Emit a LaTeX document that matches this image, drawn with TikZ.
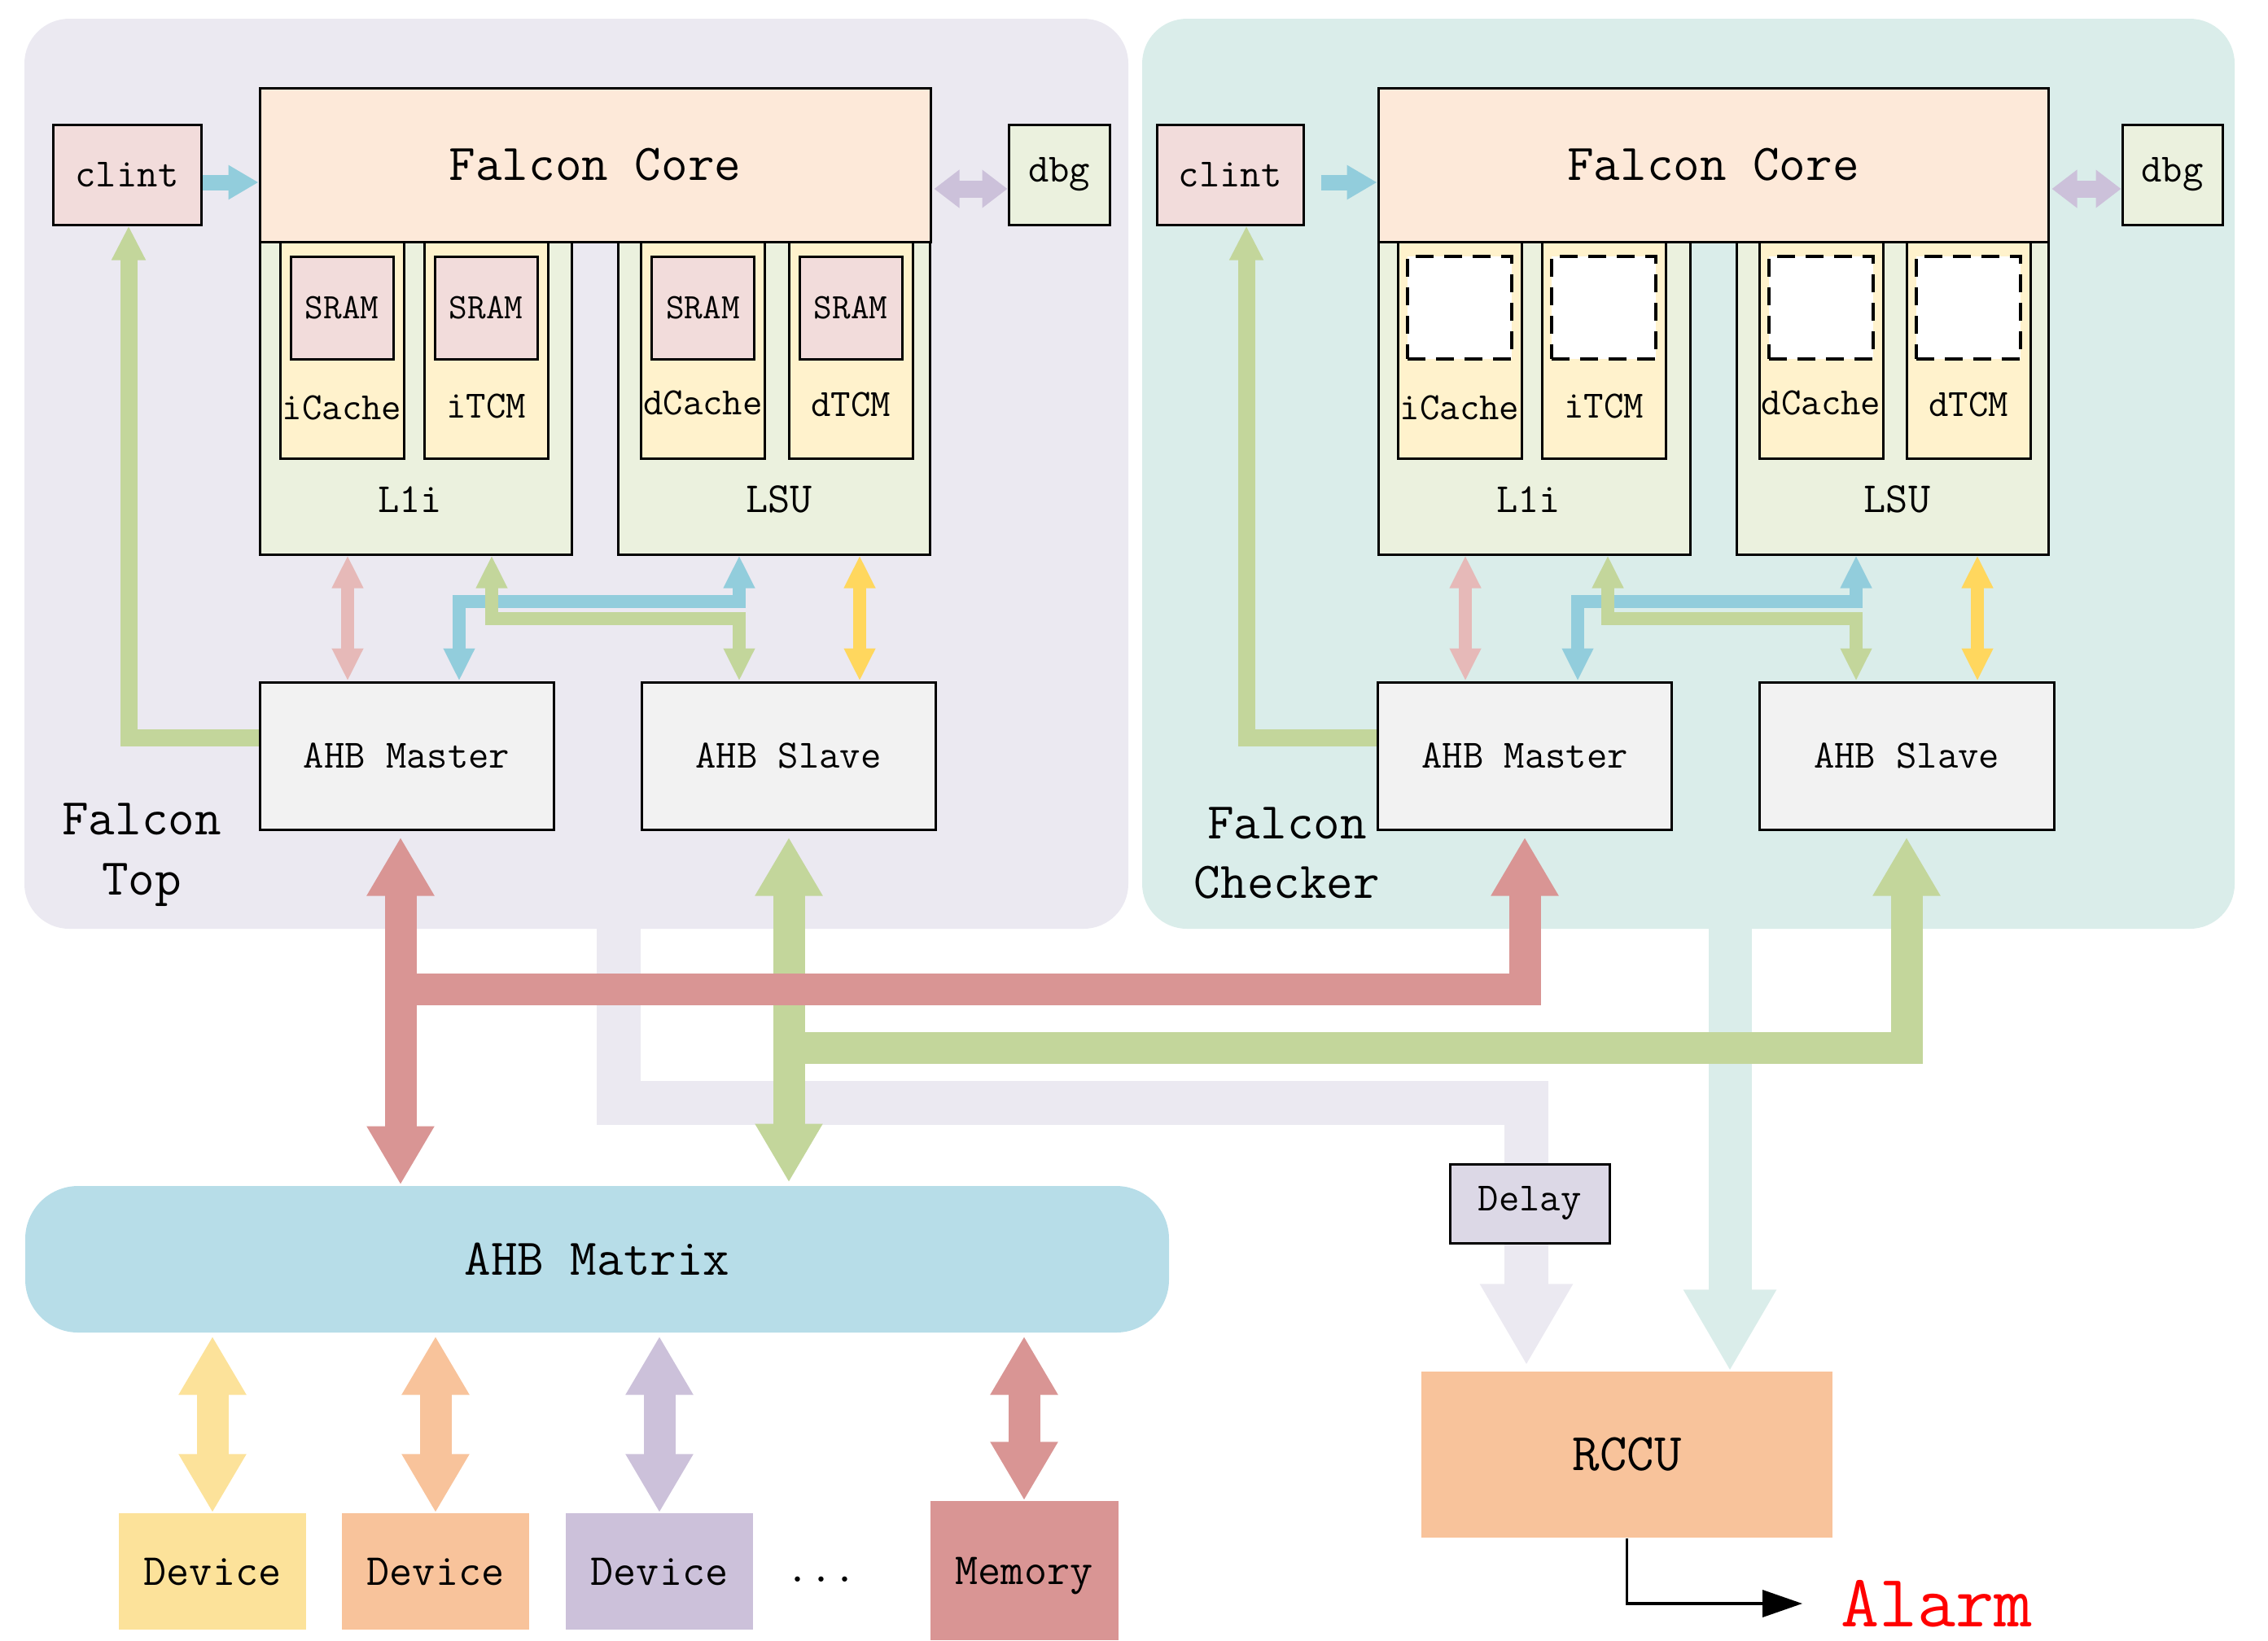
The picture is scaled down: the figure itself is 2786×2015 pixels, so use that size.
\documentclass[tikz,border=0pt]{standalone}
\usepackage{fontspec}
\usetikzlibrary{arrows.meta,positioning,calc}
\definecolor{TopBg}{HTML}{EBE9F1}
\definecolor{ChkBg}{HTML}{DAEDEA}
\definecolor{ClintPink}{HTML}{F2DCDB}
\definecolor{CorePeach}{HTML}{FDE9D9}
\definecolor{UnitGreen}{HTML}{EBF1DE}
\definecolor{CacheYellow}{HTML}{FFF2CC}
\definecolor{AhbGrey}{HTML}{F2F2F2}
\definecolor{ArrBlue}{HTML}{92CDDC}
\definecolor{ArrGreen}{HTML}{C3D69B}
\definecolor{ArrPink}{HTML}{E6B9B8}
\definecolor{ArrYellow}{HTML}{FFD75E}
\definecolor{ArrPurple}{HTML}{CCC1DA}
\definecolor{ArrRed}{HTML}{D99594}
\definecolor{MatrixBlue}{HTML}{B7DDE8}
\definecolor{DevYellow}{HTML}{FCE29A}
\definecolor{DevOrange}{HTML}{F8C39B}
\definecolor{DelayLilac}{HTML}{DCD8E6}
\newcommand{\ttsize}[1]{\ttfamily\fontsize{#1}{#1}\selectfont}
\pgfdeclarelayer{bg}
\pgfdeclarelayer{pipes}
\pgfsetlayers{bg,pipes,main}

\begin{document}
\begin{tikzpicture}[
		x=0.1mm,y=-0.1mm,
		box/.style={draw,line width=0.3mm,inner sep=0pt,align=center},
		cont/.style={draw=none,rounded corners=5.5mm,minimum height=111.8mm},
		small/.style={box,minimum height=12.3mm,font=\ttsize{14}},
		unit/.style={box,fill=UnitGreen,minimum width=38.3mm,minimum height=38.4mm},
		cachebox/.style={box,fill=CacheYellow,minimum width=15.2mm,minimum height=26.6mm},
		sram/.style={box,fill=ClintPink,minimum width=12.6mm,minimum height=12.6mm,font=\ttsize{12.5}},
		ghost/.style={box,fill=white,line width=0.35mm,dash pattern=on 2.2mm off 1.3mm,minimum width=12.8mm,minimum height=12.6mm},
		ahb/.style={box,fill=AhbGrey,minimum width=36.1mm,minimum height=18.1mm,font=\ttsize{14}},
		lbl/.style={inner sep=0pt,font=\ttsize{13.5}},
		dev/.style={inner sep=0pt,minimum width=23mm,minimum height=14.3mm,font=\ttsize{15.5}},
		sarr/.style={line width=1.6mm,{Triangle[length=4mm,width=3.6mm]}-{Triangle[length=4mm,width=3.6mm]}},
		tiparr/.style={line width=1.9mm,-{Triangle[length=3.7mm,width=4mm]}},
		dbgarr/.style={line width=2.1mm,{Triangle[length=3.1mm,width=4.5mm]}-{Triangle[length=3.1mm,width=4.5mm]}},
		irqarr/.style={line width=2.1mm,ArrGreen,-{Triangle[length=4.2mm,width=3.9mm]}},
		bigarr/.style={line width=3.9mm,{Triangle[length=7.2mm,width=7.8mm]}-{Triangle[length=7.2mm,width=7.8mm]}},
		bighead/.style={line width=3.9mm,-{Triangle[length=7.2mm,width=7.8mm]}},
		pipe/.style={line width=5.4mm},
		pipehead/.style={pipe,-{Triangle[length=10mm,width=10.7mm]}}
	]
	\useasboundingbox (0,0) rectangle (2786,2015);
	% containers
	\begin{pgfonlayer}{bg}
		\node[cont,fill=TopBg,minimum width=135.6mm] (topbg) at (708,582) {};
		\node[cont,fill=ChkBg,minimum width=134.2mm] (chkbg) at (2074,582) {};
	\end{pgfonlayer}
	% Falcon Top
	\node[small,fill=ClintPink,minimum width=18.2mm] (tclint) at (156,214.5) {clint};
	\node[unit] (tl1i) at (510.5,489) {};
	\node[unit] (tlsu) at (951,489) {};
	\node[box,fill=CorePeach,minimum width=82.4mm,minimum height=18.9mm,font=\ttsize{18}] (tcore) at (731,202.5) {Falcon Core};
	\node[small,fill=UnitGreen,minimum width=12.4mm] (tdbg) at (1301,214.5) {dbg};
	\node[cachebox] (ticache) at (420,430) {};
	\node[cachebox] (titcm) at (597,430) {};
	\node[cachebox] (tdcache) at (863.5,430) {};
	\node[cachebox] (tdtcm) at (1045,430) {};
	\node[sram] (tsram1) at ([yshift=5.2mm]ticache) {SRAM};
	\node[sram] (tsram2) at ([yshift=5.2mm]titcm) {SRAM};
	\node[sram] (tsram3) at ([yshift=5.2mm]tdcache) {SRAM};
	\node[sram] (tsram4) at ([yshift=5.2mm]tdtcm) {SRAM};
	\node[lbl] at ([yshift=6.4mm]ticache.south) {iCache};
	\node[lbl] at ([yshift=6.6mm]titcm.south) {iTCM};
	\node[lbl] at ([yshift=7mm]tdcache.south) {dCache};
	\node[lbl] at ([yshift=6.8mm]tdtcm.south) {dTCM};
	\node[lbl,font=\ttsize{14.5}] at ([xshift=-0.7mm,yshift=6.9mm]tl1i.south) {L1i};
	\node[lbl,font=\ttsize{15}] at ([xshift=0.6mm,yshift=6.9mm]tlsu.south) {LSU};
	\node[ahb] (tmaster) at (499.5,928.5) {AHB Master};
	\node[ahb] (tslave) at (968.5,928.5) {AHB Slave};
	\node[align=center,font=\ttfamily\fontsize{18}{21}\selectfont] (toplbl) at (174,1050) {Falcon\\Top};
	% Falcon Checker
	\node[small,fill=ClintPink,minimum width=18mm] (cclint) at (1511,214.5) {clint};
	\node[unit] (cl1i) at (1884.5,489) {};
	\node[unit] (clsu) at (2324.5,489) {};
	\node[box,fill=CorePeach,minimum width=82.3mm,minimum height=18.9mm,font=\ttsize{18}] (ccore) at (2104.5,202.5) {Falcon Core};
	\node[small,fill=UnitGreen,minimum width=12.3mm] (cdbg) at (2668.5,214.5) {dbg};
	\node[cachebox] (cicache) at (1793,430) {};
	\node[cachebox] (citcm) at (1970,430) {};
	\node[cachebox] (cdcache) at (2237,430) {};
	\node[cachebox] (cdtcm) at (2418,430) {};
	\node[ghost] (cslot1) at ([yshift=5.2mm]cicache) {};
	\node[ghost] (cslot2) at ([yshift=5.2mm]citcm) {};
	\node[ghost] (cslot3) at ([yshift=5.2mm]cdcache) {};
	\node[ghost] (cslot4) at ([yshift=5.2mm]cdtcm) {};
	\node[lbl] at ([yshift=6.4mm]cicache.south) {iCache};
	\node[lbl] at ([yshift=6.6mm]citcm.south) {iTCM};
	\node[lbl] at ([yshift=7mm]cdcache.south) {dCache};
	\node[lbl] at ([yshift=6.8mm]cdtcm.south) {dTCM};
	\node[lbl,font=\ttsize{14.5}] at ([xshift=-0.7mm,yshift=6.9mm]cl1i.south) {L1i};
	\node[lbl,font=\ttsize{15}] at ([xshift=0.6mm,yshift=6.9mm]clsu.south) {LSU};
	\node[ahb] (cmaster) at (1873,928.5) {AHB Master};
	\node[ahb,minimum width=36.2mm] (cslave) at (2342,928.5) {AHB Slave};
	\node[align=center,font=\ttfamily\fontsize{18}{21}\selectfont] (chklbl) at (1581,1048) {Falcon\\Checker};
	% bus and devices
	\node[box,draw=none,fill=MatrixBlue,rounded corners=6.5mm,minimum width=140.5mm,minimum height=18mm,font=\ttsize{18}] (ahbmx) at (733.5,1547) {AHB Matrix};
	\node[dev,fill=DevYellow] (dev1) at (261,1930.5) {Device};
	\node[dev,fill=DevOrange] (dev2) at (535,1930.5) {Device};
	\node[dev,fill=ArrPurple] (dev3) at (810,1930.5) {Device};
	\node[inner sep=0pt,font=\ttsize{16}] (dots) at (1009,1940) {...};
	\node[dev,fill=ArrRed,minimum width=23.1mm,minimum height=17.1mm,text depth=-0.6mm] (memory) at (1258,1929.5) {Memory};
	\node[box,fill=DelayLilac,minimum width=19.6mm,minimum height=9.7mm,font=\ttsize{14}] (delay) at (1879,1478.5) {Delay};
	\node[inner sep=0pt,fill=DevOrange,minimum width=50.5mm,minimum height=20.4mm,font=\ttsize{18.5}] (rccu) at (1998.5,1787) {RCCU};
	\node[anchor=west,inner xsep=4.7mm,inner ysep=0pt,text=red,font=\ttsize{26}] (alarm) at (2214,1970) {Alarm};
	% connectors inside the cores
	\draw[tiparr,ArrBlue] (tclint.east |- 0,224) -- (tcore.west |- 0,224);
	\draw[dbgarr,ArrPurple,shorten <=0.3mm] (tcore.east |- 0,232) -- (tdbg.west |- 0,232);
	\draw[sarr,ArrPink] (427,0 |- tl1i.south) -- (427,0 |- tmaster.north);
	\draw[sarr,ArrBlue] (564,0 |- tmaster.north) |- (908,739) -- (908,0 |- tlsu.south);
	\draw[sarr,ArrGreen] (604,0 |- tl1i.south) |- (908,760) -- (908,0 |- tslave.north);
	\draw[sarr,ArrYellow] (1056,0 |- tlsu.south) -- (1056,0 |- tslave.north);
	\draw[irqarr] (tmaster.west |- 0,906) -| (158,0 |- tclint.south);
	\draw[tiparr,ArrBlue,shorten <=2mm] (cclint.east |- 0,224) -- (ccore.west |- 0,224);
	\draw[dbgarr,ArrPurple,shorten <=0.3mm] (ccore.east |- 0,232) -- (cdbg.west |- 0,232);
	\draw[sarr,ArrPink] (1800,0 |- cl1i.south) -- (1800,0 |- cmaster.north);
	\draw[sarr,ArrBlue] (1938,0 |- cmaster.north) |- (2280,739) -- (2280,0 |- clsu.south);
	\draw[sarr,ArrGreen] (1975,0 |- cl1i.south) |- (2280,760) -- (2280,0 |- cslave.north);
	\draw[sarr,ArrYellow] (2429,0 |- clsu.south) -- (2429,0 |- cslave.north);
	\draw[irqarr] (cmaster.west |- 0,906) -| (1531,0 |- cclint.south);
	% buses between the blocks
	\coordinate (rsplit) at (492,1215);
	\coordinate (gsplit) at (969,1287);
	\begin{pgfonlayer}{pipes}
		\draw[pipe,TopBg,shorten <=-3mm] (760,0 |- topbg.south) |- (1875,1355) -- (1875,0 |- delay.north);
		\draw[pipehead,TopBg,shorten >=0.7mm] (1875,0 |- delay.south) -- (1875,0 |- rccu.north);
		\draw[pipehead,ChkBg,line width=5.3mm,shorten <=-3mm] (2125,0 |- chkbg.south) -- (2125,0 |- rccu.north);
		\draw[bigarr,ArrGreen,shorten <=0.8mm,shorten >=0.3mm] (969,0 |- tslave.south) -- (969,0 |- ahbmx.north);
		\draw[bighead,ArrGreen,shorten >=0.8mm] (gsplit) -| (2342,0 |- cslave.south);
		\draw[bigarr,ArrRed,shorten <=0.8mm] (492,0 |- tmaster.south) -- (492,0 |- ahbmx.north);
		\draw[bighead,ArrRed,shorten >=0.8mm] (rsplit) -| (1873,0 |- cmaster.south);
	\end{pgfonlayer}
	\draw[bigarr,DevYellow,shorten <=0.3mm] (dev1.north |- ahbmx.south) -- (dev1.north);
	\draw[bigarr,DevOrange,shorten <=0.3mm] (dev2.north |- ahbmx.south) -- (dev2.north);
	\draw[bigarr,ArrPurple,shorten <=0.3mm] (dev3.north |- ahbmx.south) -- (dev3.north);
	\draw[bigarr,ArrRed,shorten <=0.3mm] (memory.north |- ahbmx.south) -- (memory.north);
	\draw[line width=0.35mm,-{Triangle[length=4.9mm,width=3.3mm]}] (rccu.south) |- (alarm.west);
\end{tikzpicture}
\end{document}
